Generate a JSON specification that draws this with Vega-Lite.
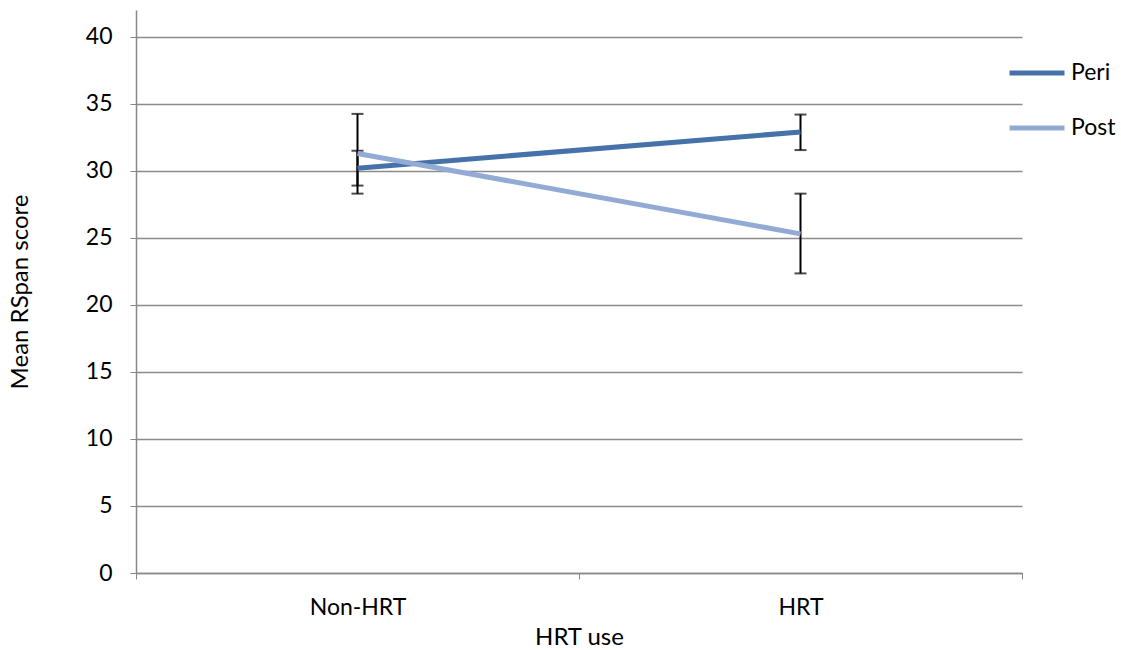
{
  "$schema": "https://vega.github.io/schema/vega-lite/v6.json",
  "autosize": "none",
  "width": 886,
  "height": 563,
  "padding": {"left": 136, "top": 10, "right": 99, "bottom": 77},
  "background": "white",
  "config": {
    "view": {"stroke": null},
    "font": "Lato",
    "axis": {"labelFont": "Lato", "titleFont": "Lato", "labelColor": "black", "titleColor": "black", "titleFontWeight": "normal"}
  },
  "data": {
    "values": [
      {"hrt": "Non-HRT", "group": "Peri", "mean": 30.2, "lo": 28.9, "hi": 31.5},
      {"hrt": "HRT", "group": "Peri", "mean": 32.9, "lo": 31.55, "hi": 34.2},
      {"hrt": "Non-HRT", "group": "Post", "mean": 31.3, "lo": 28.3, "hi": 34.25},
      {"hrt": "HRT", "group": "Post", "mean": 25.3, "lo": 22.35, "hi": 28.3}
    ]
  },
  "encoding": {
    "x": {
      "field": "hrt",
      "type": "nominal",
      "sort": ["Non-HRT", "HRT"],
      "scale": {"paddingInner": 0, "paddingOuter": 0},
      "axis": {
        "title": "HRT use",
        "titleFontSize": 24,
        "titlePadding": 6,
        "labelFontSize": 23,
        "labelAngle": 0,
        "labelPadding": 17,
        "tickBand": "extent",
        "tickSize": 6,
        "tickColor": "#888888",
        "domainColor": "#888888",
        "domainWidth": 1.5,
        "grid": false
      }
    }
  },
  "layer": [
    {
      "mark": {"type": "rule", "color": "black", "strokeWidth": 2},
      "encoding": {
        "y": {"field": "lo", "type": "quantitative"},
        "y2": {"field": "hi"}
      }
    },
    {
      "mark": {"type": "tick", "color": "black", "size": 12, "thickness": 2},
      "encoding": {
        "y": {"field": "lo", "type": "quantitative"}
      }
    },
    {
      "mark": {"type": "tick", "color": "black", "size": 12, "thickness": 2},
      "encoding": {
        "y": {"field": "hi", "type": "quantitative"}
      }
    },
    {
      "mark": {"type": "line", "strokeWidth": 5},
      "encoding": {
        "y": {
          "field": "mean",
          "type": "quantitative",
          "scale": {"domain": [0, 42], "nice": false},
          "axis": {
            "title": "Mean RSpan score",
            "titleFontSize": 24,
            "titlePadding": 53,
            "labelFontSize": 23,
            "labelPadding": 18,
            "values": [0, 5, 10, 15, 20, 25, 30, 35, 40],
            "tickSize": 6,
            "tickColor": "#888888",
            "domainColor": "#888888",
            "domainWidth": 1.5,
            "grid": true,
            "gridColor": "#8c8c8c",
            "gridWidth": 1.5
          }
        },
        "color": {
          "field": "group",
          "type": "nominal",
          "scale": {"domain": ["Peri", "Post"], "range": ["#4672AA", "#93ABD4"]},
          "legend": {
            "title": null,
            "orient": "none",
            "legendX": 871,
            "legendY": 33,
            "padding": 0,
            "symbolType": "stroke",
            "symbolSize": 3025,
            "symbolStrokeWidth": 5,
            "labelFontSize": 23,
            "labelColor": "black",
            "rowPadding": 13,
            "labelOffset": 4
          }
        }
      }
    }
  ]
}
